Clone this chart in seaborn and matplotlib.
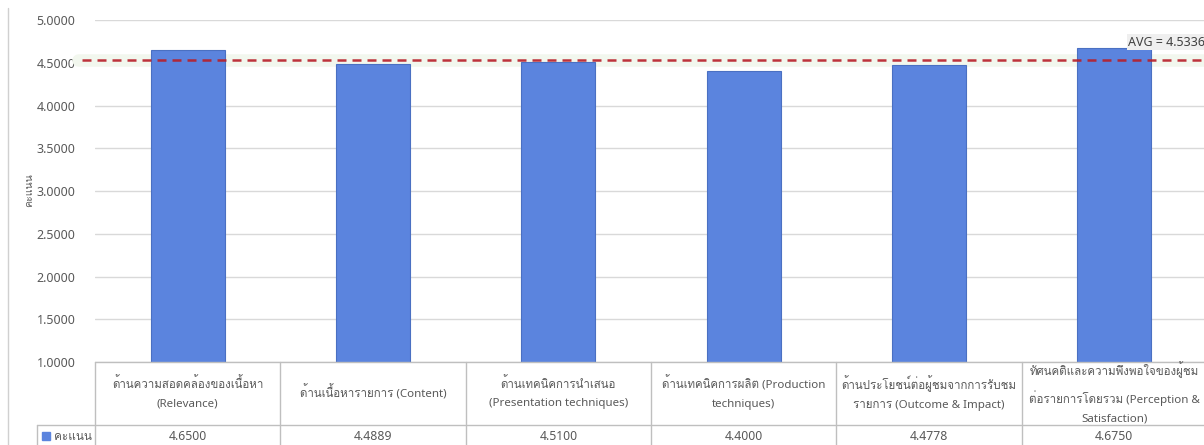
import numpy as np
import pandas as pd
import seaborn as sns
import matplotlib
matplotlib.use("Agg")
import matplotlib.pyplot as plt
from matplotlib import transforms, font_manager
from matplotlib.lines import Line2D
from matplotlib.patches import Rectangle
from matplotlib.ft2font import FT2Font

# ---- data ----
categories = [
    "ด้านความสอดคล้องของเนื้อหา\n(Relevance)",
    "ด้านเนื้อหารายการ (Content)",
    "ด้านเทคนิคการนำเสนอ\n(Presentation techniques)",
    "ด้านเทคนิคการผลิต (Production\ntechniques)",
    "ด้านประโยชน์ต่อผู้ชมจากการรับชม\nรายการ (Outcome & Impact)",
    "ทัศนคติและความพึงพอใจของผู้ชม\nต่อรายการโดยรวม (Perception &\nSatisfaction)",
]
scores = [4.6500, 4.4889, 4.5100, 4.4000, 4.4778, 4.6750]
series_name = "คะแนน"
y_ticks = [1.0, 1.5, 2.0, 2.5, 3.0, 3.5, 4.0, 4.5, 5.0]
avg_score = float(np.mean(scores))


def thai_family():
    """Return the name of an installed font that covers Thai, if any."""
    best = None
    for f in font_manager.fontManager.ttflist:
        try:
            cmap = FT2Font(f.fname).get_charmap()
        except Exception:
            continue
        if 0x0E01 in cmap:
            if f.style == "normal" and f.weight in (400, "normal"):
                return f.name
            best = best or f.name
    return best


W, H = 1204, 445
BAR = "#5b84de"
TXT = "#595959"
GRID = "#d9d9d9"

sns.set_theme(style="white")
th = thai_family()
fams = ["Noto Sans"] + ([th] if th else []) + ["DejaVu Sans"]
plt.rcParams["font.family"] = fams


def fy(y):
    return (H - y) / H


fig = plt.figure(figsize=(W / 100, H / 100), dpi=100)
fig.patch.set_facecolor("white")
ax = fig.add_axes([95 / W, fy(362), (1207 - 95) / W, (362 - 20) / H])

df = pd.DataFrame({"category": categories, "score": scores})
sns.barplot(data=df, x="category", y="score", color=BAR, saturation=1,
            width=0.4, edgecolor="#4a70c2", linewidth=0.8, ax=ax, zorder=2)

ax.set_xlim(-0.5, len(categories) - 0.5)
ax.set_ylim(1, 5)
ax.set_yticks(y_ticks)
ax.set_yticklabels([f"{v:.4f}" for v in y_ticks])
ax.set_xticks([])
ax.set_xlabel("")
ax.set_ylabel("")
for s in ax.spines.values():
    s.set_visible(False)
ax.yaxis.grid(True, color=GRID, lw=1)
ax.set_axisbelow(True)
ax.tick_params(axis="y", length=0, pad=14, labelsize=9, labelcolor=TXT)

# average line with a faint glow behind it
glow = ax.axhline(avg_score, xmin=-17 / 1112, xmax=1, color="#f2f7ee",
                  lw=9, zorder=1)
glow.set_clip_on(False)
avg_line = ax.axhline(avg_score, xmin=-13 / 1112, xmax=1, color="#b81e28",
                      lw=1.8, ls=(0, (3.6, 2.4)), alpha=0.9, zorder=3)
avg_line.set_clip_on(False)
fig.text(1128 / W, fy(42), f"AVG = {avg_score:.4f}", fontsize=9,
         color="#404040", ha="left", va="center",
         bbox=dict(facecolor="#efefef", edgecolor="none", pad=1.0))

# data table under the axis
tr = transforms.blended_transform_factory(ax.transData, fig.transFigure)
LC = "#bfbfbf"
for i in range(len(categories) + 1):
    fig.add_artist(Line2D([i - 0.5, i - 0.5], [fy(362), 0], transform=tr,
                          color=LC, lw=1))
fig.add_artist(Line2D([37 / W, 1], [fy(425), fy(425)],
                      transform=fig.transFigure, color=LC, lw=1))
fig.add_artist(Line2D([37 / W, 37 / W], [fy(425), 0],
                      transform=fig.transFigure, color=LC, lw=1))
fig.add_artist(Line2D([95 / W, 1], [fy(362), fy(362)],
                      transform=fig.transFigure, color=LC, lw=1))

for i, (cat, val) in enumerate(zip(categories, scores)):
    fig.text(i, fy(393), cat, transform=tr, ha="center", va="center",
             fontsize=8.3, color=TXT, linespacing=1.95)
    fig.text(i, fy(437), f"{val:.4f}", transform=tr, ha="center",
             va="center", fontsize=8.8, color=TXT)

fig.add_artist(Rectangle((42 / W, fy(440)), 8 / W, 8 / H, color=BAR,
                         transform=fig.transFigure))
fig.text(54 / W, fy(436), series_name, ha="left", va="center", fontsize=8.5,
         color=TXT)

# y axis title
fig.text(30 / W, fy(190), series_name, rotation=90, ha="center",
         va="center", fontsize=7.5, color=TXT)

# chart frame
fig.add_artist(Line2D([8 / W, 8 / W], [fy(8), 0], transform=fig.transFigure,
                      color="#d0d0d0", lw=1))

fig.savefig("out.png", dpi=100)
